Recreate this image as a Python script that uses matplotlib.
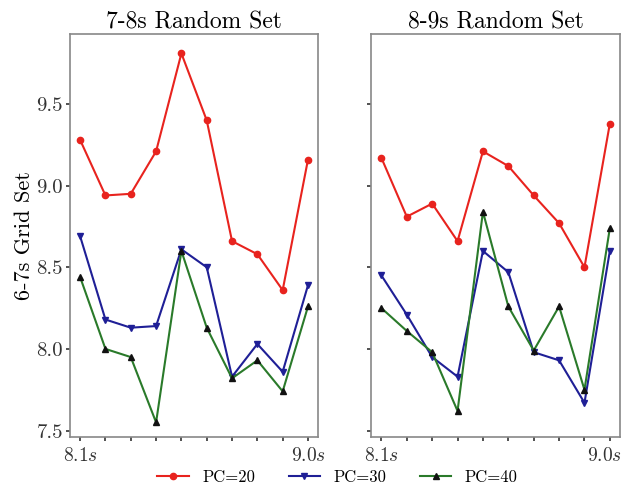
import matplotlib
matplotlib.use("Agg")
import matplotlib.pyplot as plt
import matplotlib.transforms as mtransforms
import numpy as np

plt.rcParams['font.family'] = 'serif'
plt.rcParams['font.serif'] = ['cmr10', 'DejaVu Serif']
plt.rcParams['mathtext.fontset'] = 'cm'
plt.rcParams['axes.unicode_minus'] = False

times = [8.1, 8.2, 8.3, 8.4, 8.5, 8.6, 8.7, 8.8, 8.9, 9.0]
titles = ["7-8s Random Set", "8-9s Random Set"]

pc20_a = [9.28, 8.94, 8.95, 9.21, 9.81, 9.40, 8.66, 8.58, 8.36, 9.16]
pc30_a = [8.69, 8.18, 8.13, 8.14, 8.61, 8.50, 7.83, 8.03, 7.86, 8.39]
pc40_a = [8.44, 8.00, 7.95, 7.55, 8.60, 8.13, 7.82, 7.93, 7.74, 8.26]

pc20_b = [9.17, 8.81, 8.89, 8.66, 9.21, 9.12, 8.94, 8.77, 8.50, 9.38]
pc30_b = [8.45, 8.21, 7.95, 7.83, 8.60, 8.47, 7.98, 7.93, 7.67, 8.60]
pc40_b = [8.25, 8.11, 7.98, 7.62, 8.84, 8.26, 7.99, 8.26, 7.75, 8.74]

fig = plt.figure(figsize=(6.25, 4.9), dpi=100)
ax1 = fig.add_axes([0.112, 0.108, 0.397, 0.823])
ax2 = fig.add_axes([0.594, 0.108, 0.398, 0.823])

series = [(pc20_a, pc30_a, pc40_a), (pc20_b, pc30_b, pc40_b)]
for ax, title, (s20, s30, s40) in zip([ax1, ax2], titles, series):
    ax.plot(times, s20, color='#e8231e', marker='o', markersize=4.5, lw=1.5, label='PC=20')
    ax.plot(times, s30, color='#1f1f96', marker='v', markersize=4.5, lw=1.5, label='PC=30')
    ax.plot(times, s40, color='#2a7a2a', marker='^', markersize=4.5, lw=1.5,
            markerfacecolor='#111111', markeredgecolor='#111111', label='PC=40')
    ax.set_xlim(8.06, 9.04)
    ax.set_ylim(7.46, 9.93)
    ax.set_xticks(times)
    ax.set_xticklabels([r'$8.1s$'] + [''] * 8 + [r'$9.0s$'], fontsize=14)
    ax.set_yticks([7.5, 8.0, 8.5, 9.0, 9.5])
    ax.set_title(title, fontsize=17, pad=3)
    ax.tick_params(length=3, width=1.2, pad=2, color='#333333', labelcolor='#333333')
    ax.tick_params(axis='x', pad=4)
    for sp in ax.spines.values():
        sp.set_color('#888888')
        sp.set_linewidth(1.2)

# nudge the last label on the right panel so it stays inside the figure
last = ax2.get_xticklabels()[-1]
last.set_transform(last.get_transform() + mtransforms.ScaledTranslation(-4 / 72, 0, fig.dpi_scale_trans))

ax1.set_yticklabels(['7.5', '8.0', '8.5', '9.0', '9.5'], fontsize=15)
ax2.set_yticklabels([])
ax1.set_ylabel("6-7s Grid Set", fontsize=16, labelpad=2)

handles, labels = ax1.get_legend_handles_labels()
fig.legend(handles, labels, loc='lower center', ncol=3, frameon=False,
           bbox_to_anchor=(0.54, -0.02), fontsize=12, handlelength=1.9, columnspacing=2.0)

fig.savefig("out.png", dpi=100)
